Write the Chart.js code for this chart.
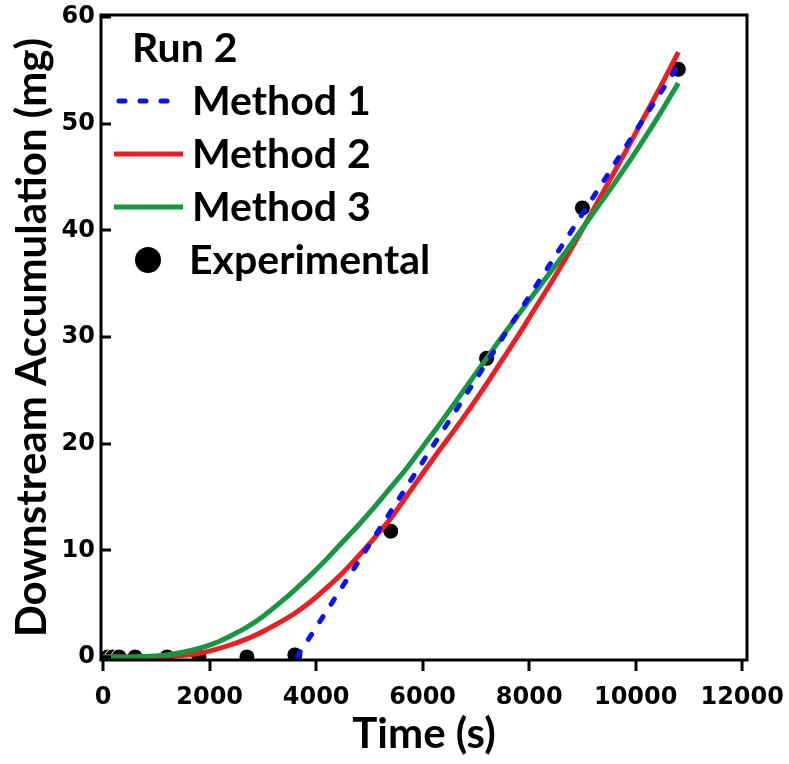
<!DOCTYPE html>
<html>
<head>
<meta charset="utf-8">
<title>Run 2 - Downstream Accumulation</title>
<script src="https://cdn.jsdelivr.net/npm/chart.js@4.4.1/dist/chart.umd.min.js"></script>
<style>
  html, body { margin: 0; padding: 0; background: #fff; }
  #chart-container { width: 789px; height: 764px; }
</style>
</head>
<body>
<div id="chart-container"><canvas id="accumulation-chart" width="789" height="764"></canvas></div>
<script>
// Model curves share one time grid (s)
const modelTime = [0, 300, 600, 900, 1200, 1500, 1800, 2100, 2400, 2700, 3000, 3300, 3600,
  3900, 4200, 4500, 4800, 5100, 5400, 5700, 6000, 6300, 6600, 6900, 7200, 7500, 7800,
  8100, 8400, 8700, 9000, 9300, 9600, 9900, 10200, 10500, 10800];
const method2Values = [0, 0, 0, 0.01, 0.05, 0.15, 0.35, 0.7, 1.15, 1.7, 2.4, 3.2, 4.1,
  5.2, 6.5, 7.9, 9.5, 11.2, 13.0, 15.1, 17.2, 19.3, 21.3, 23.4, 25.6, 27.9, 30.2,
  32.6, 35.0, 37.5, 40.1, 42.8, 45.5, 48.2, 51.0, 53.8, 56.7];
const method3Values = [0, 0, 0.02, 0.08, 0.2, 0.45, 0.8, 1.3, 2.0, 2.8, 3.8, 5.0, 6.3,
  7.7, 9.2, 10.8, 12.4, 14.1, 15.9, 17.7, 19.7, 21.7, 23.8, 25.9, 28.0, 30.1, 32.1,
  34.1, 36.1, 38.1, 40.2, 42.3, 44.4, 46.6, 48.9, 51.3, 53.8];

// Method 1 is the time-lag straight line
const method1Time = [3640, 10800];
const method1Values = [0, 55.5];

const experimentalTime = [90, 180, 300, 600, 1200, 1800, 2700, 3600, 5400, 7200, 9000, 10800];
const experimentalValues = [0, 0, 0, 0, 0, 0, 0, 0.2, 11.8, 28.0, 42.1, 55.1];

const xTickValues = [0, 2000, 4000, 6000, 8000, 10000, 12000];
const yTickValues = [0, 10, 20, 30, 40, 50, 60];

const legendTitle = 'Run 2';
const seriesLabels = ['Method 1', 'Method 2', 'Method 3', 'Experimental'];
const xTitle = 'Time (s)';
const yTitle = 'Downstream Accumulation (mg)';

const COLORS = {
  method1: '#0a14f0',
  method2: '#ee1d23',
  method3: '#17973f',
  experimental: '#000000'
};

const TITLE_FONT = 'Lato';
const TICK_FONT = 'DejaVu Sans';

function toPoints(xs, ys) {
  return xs.map((x, i) => ({ x: x, y: ys[i] }));
}

// frame, tick marks and the in-plot legend
const framePlugin = {
  id: 'frame',
  afterDatasetsDraw(chart) {
    const ctx = chart.ctx;
    const area = chart.chartArea;
    const xScale = chart.scales.x;
    const yScale = chart.scales.y;

    ctx.save();
    ctx.strokeStyle = '#000';
    ctx.lineWidth = 3;
    ctx.strokeRect(area.left, area.top, area.right - area.left, area.bottom - area.top);

    ctx.beginPath();
    xTickValues.forEach(v => {
      const px = Math.round(xScale.getPixelForValue(v));
      ctx.moveTo(px, area.bottom);
      ctx.lineTo(px, area.bottom + 11);
    });
    yTickValues.forEach(v => {
      const py = Math.round(yScale.getPixelForValue(v));
      ctx.moveTo(area.left, py);
      ctx.lineTo(area.left + 10, py);
    });
    ctx.stroke();
    ctx.restore();

    drawLegend(chart);
  }
};

function drawLegend(chart) {
  const ctx = chart.ctx;
  const sets = chart.data.datasets;
  const font = 'bold 41px ' + TITLE_FONT;
  const rowGap = 53;
  const firstBase = 62;

  ctx.save();
  ctx.font = font;
  ctx.fillStyle = '#000';
  ctx.textBaseline = 'alphabetic';
  ctx.fillText(legendTitle, 132, firstBase);

  sets.forEach((ds, i) => {
    const base = firstBase + rowGap * (i + 1);
    const mid = base - 14;
    if (ds.showLine) {
      ctx.beginPath();
      ctx.strokeStyle = ds.borderColor;
      ctx.lineWidth = ds.borderWidth;
      ctx.lineCap = ds.borderCapStyle || 'butt';
      ctx.setLineDash(ds.borderDash || []);
      ctx.moveTo(ds.borderDash ? 119 : 114, mid);
      ctx.lineTo(ds.borderDash ? 178 : 183, mid);
      ctx.stroke();
      ctx.setLineDash([]);
      ctx.fillStyle = '#000';
      ctx.fillText(ds.label, 192, base);
    } else {
      ctx.beginPath();
      ctx.fillStyle = ds.backgroundColor;
      ctx.arc(148, mid, 13, 0, Math.PI * 2);
      ctx.fill();
      ctx.fillStyle = '#000';
      ctx.fillText(ds.label, 189, base);
    }
  });
  ctx.restore();
}

const datasets = [
  {
    label: seriesLabels[0],
    data: toPoints(method1Time, method1Values),
    showLine: true,
    borderColor: COLORS.method1,
    borderWidth: 5,
    borderDash: [6, 15],
    borderCapStyle: 'round',
    pointRadius: 0,
    order: 1
  },
  {
    label: seriesLabels[1],
    data: toPoints(modelTime, method2Values),
    showLine: true,
    borderColor: COLORS.method2,
    borderWidth: 5,
    cubicInterpolationMode: 'monotone',
    pointRadius: 0,
    order: 3
  },
  {
    label: seriesLabels[2],
    data: toPoints(modelTime, method3Values),
    showLine: true,
    borderColor: COLORS.method3,
    borderWidth: 5,
    cubicInterpolationMode: 'monotone',
    pointRadius: 0,
    order: 2
  },
  {
    label: seriesLabels[3],
    data: toPoints(experimentalTime, experimentalValues),
    showLine: false,
    backgroundColor: COLORS.experimental,
    pointBackgroundColor: COLORS.experimental,
    pointBorderColor: '#ffffff',
    pointBorderWidth: 1,
    pointRadius: 8,
    order: 4
  }
];

const chart = new Chart(document.getElementById('accumulation-chart'), {
  type: 'scatter',
  data: { datasets: datasets },
  options: {
    responsive: false,
    animation: false,
    devicePixelRatio: 1,
    layout: { padding: { top: 15, right: 42, left: 0, bottom: 0 } },
    plugins: {
      legend: { display: false },
      tooltip: { enabled: false }
    },
    scales: {
      x: {
        type: 'linear',
        min: -40,
        max: 12090,
        afterBuildTicks: scale => { scale.ticks = xTickValues.map(v => ({ value: v })); },
        afterFit: scale => {
          scale.height = 104;
          scale.paddingLeft = 0;
          scale.paddingRight = 0;
        },
        grid: { display: false, drawTicks: false },
        border: { display: false },
        ticks: {
          color: '#000',
          padding: 23,
          maxRotation: 0,
          callback: v => String(v),
          font: { family: TICK_FONT, size: 24, weight: 'bold' }
        },
        title: {
          display: true,
          text: xTitle,
          color: '#000',
          padding: { top: 0, bottom: 4 },
          font: { family: TITLE_FONT, size: 42, weight: 'bold' }
        }
      },
      y: {
        type: 'linear',
        min: -0.28,
        max: 60.19,
        afterBuildTicks: scale => { scale.ticks = yTickValues.map(v => ({ value: v })); },
        afterFit: scale => {
          scale.width = 101;
          scale.paddingTop = 0;
          scale.paddingBottom = 0;
        },
        grid: { display: false, drawTicks: false },
        border: { display: false },
        ticks: {
          color: '#000',
          padding: 6,
          callback: v => String(v),
          font: { family: TICK_FONT, size: 24, weight: 'bold' }
        },
        title: {
          display: true,
          text: yTitle,
          color: '#000',
          padding: { top: 7, bottom: 0 },
          font: { family: TITLE_FONT, size: 42, weight: 'bold' }
        }
      }
    }
  },
  plugins: [framePlugin]
});
</script>
</body>
</html>
